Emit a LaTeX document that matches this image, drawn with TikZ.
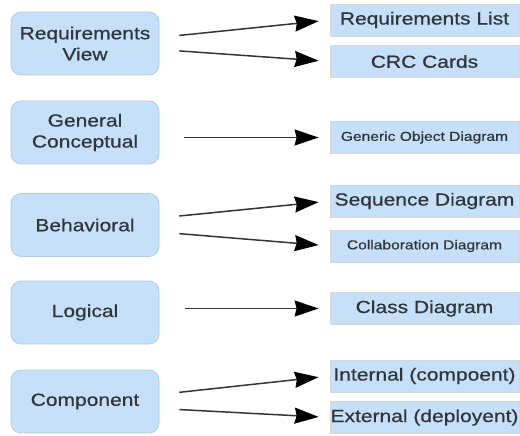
\documentclass[tikz,border=0pt]{standalone}
\usepackage{fontspec}
\usepackage{tikz}
\usepackage{xcolor}
\usetikzlibrary{arrows.meta}
\newfontfamily\diagfont[FakeStretch=1.2,FakeBold=0.6]{Liberation Sans}
\definecolor{boxblue}{HTML}{C6E0FA}
\definecolor{boxedge}{HTML}{B4CBE3}
\definecolor{listedge}{HTML}{D6D6D6}
\definecolor{inkgrey}{HTML}{30353A}

\begin{document}
\begin{tikzpicture}[x=1pt,y=-1pt,
    viewbox/.style={draw=boxedge,fill=boxblue,rounded corners=10pt,line width=0.8pt,
        minimum width=148pt,minimum height=63pt,inner sep=0pt,align=center,
        text=inkgrey,font=\diagfont\fontsize{17.5}{21}\selectfont},
    itembox/.style={draw=listedge,fill=boxblue,line width=0.8pt,
        minimum width=189pt,minimum height=32pt,inner sep=0pt,
        text=inkgrey,font=\diagfont\fontsize{17.5}{21}\selectfont},
    smalltext/.style={font=\diagfont\fontsize{13}{15}\selectfont},
    link/.style={draw=inkgrey,line width=1.5pt,shorten <=20pt,shorten >=11pt,
        -{Stealth[length=24pt,width=16pt,inset=2pt,black]}}]
\useasboundingbox (0,0) rectangle (520,436);
% views on the left
\node[viewbox] (req)  at (85, 43.5)  {Requirements\\View};
\node[viewbox] (gen)  at (85, 132.5) {General\\Conceptual};
\node[viewbox] (beh)  at (85, 225)   {Behavioral};
\node[viewbox] (logi) at (85, 312.5) {Logical};
\node[viewbox] (comp) at (85, 401.5) {Component};
% diagrams on the right
\node[itembox] (rlist)  at (424.5, 20)    {Requirements List};
\node[itembox] (crc)    at (424.5, 61.5)  {CRC Cards};
\node[itembox,smalltext] (gob) at (424.5, 137.5) {Generic Object Diagram};
\node[itembox] (seq)    at (424.5, 201)   {Sequence Diagram};
\node[itembox,smalltext] (collab) at (424.5, 246) {Collaboration Diagram};
\node[itembox] (cls)    at (424.5, 308.5) {Class Diagram};
\node[itembox] (intl)   at (424.5, 376)   {Internal (compoent)};
\node[itembox] (extl)   at (424.5, 417.5) {External (deployent)};
% arrows
\foreach \a/\b/\s in {req/rlist/6, req/crc/-6, beh/seq/7, beh/collab/-7, comp/intl/7, comp/extl/-7}{
    \draw[link] ([yshift=\s pt]\a.east) -- (\b.west);
}
\draw[link,shorten <=25pt] (gen.east |- gob.west) -- (gob.west);
\draw[link,shorten <=26pt] (logi.east |- cls.west) -- (cls.west);
\end{tikzpicture}
\end{document}
